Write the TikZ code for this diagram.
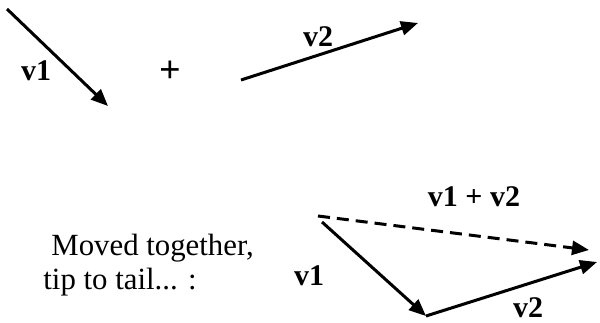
\documentclass[tikz,border=0pt]{standalone}
\usepackage{fontspec}
\setmainfont{Liberation Serif}
\usetikzlibrary{arrows.meta}

\begin{document}
\begin{tikzpicture}[x=0.5pt, y=-0.5pt, >={Triangle[length=8.5pt, width=7pt]},
  vec/.style={->, line width=1.5pt},
  lbl/.style={font=\fontsize{15}{18}\selectfont\bfseries, inner sep=0pt},
  txt/.style={font=\fontsize{15.4}{18}\selectfont, inner sep=0pt, anchor=base west}]
\useasboundingbox (0,0) rectangle (600,322);
% the two vectors, apart
\coordinate (p1) at (7,9);
\coordinate (p2) at (108,106);
\coordinate (q1) at (241,80);
\coordinate (q2) at (418,23);
\draw[vec] (p1) -- (p2);
\draw[vec] (q1) -- (q2);
\node[lbl] (v1a) at (36,71) {v1};
\node[lbl, font=\fontsize{19}{20}\selectfont\bfseries] (plus) at (170,72) {+};
\node[lbl] (v2a) at (318,37) {v2};
% moved together, tip to tail
\node[txt] (moved) at (51,255) {Moved together,};
\node[txt] (tail) at (43,289) {tip to tail... :};
\coordinate (s) at (322,222);
\coordinate (m) at (426,316);
\coordinate (e) at (597,262);
\coordinate (d1) at (318,216);
\coordinate (d2) at (589,250);
\draw[vec] (s) -- (m);
\draw[vec] (m) -- (e);
\draw[vec, dash pattern=on 6pt off 3.5pt] (d1) -- (d2);
\node[lbl] (v1b) at (309,276) {v1};
\node[lbl] (v2b) at (528,308) {v2};
\node[lbl] (sum) at (474,197) {v1 + v2};
\end{tikzpicture}
\end{document}
